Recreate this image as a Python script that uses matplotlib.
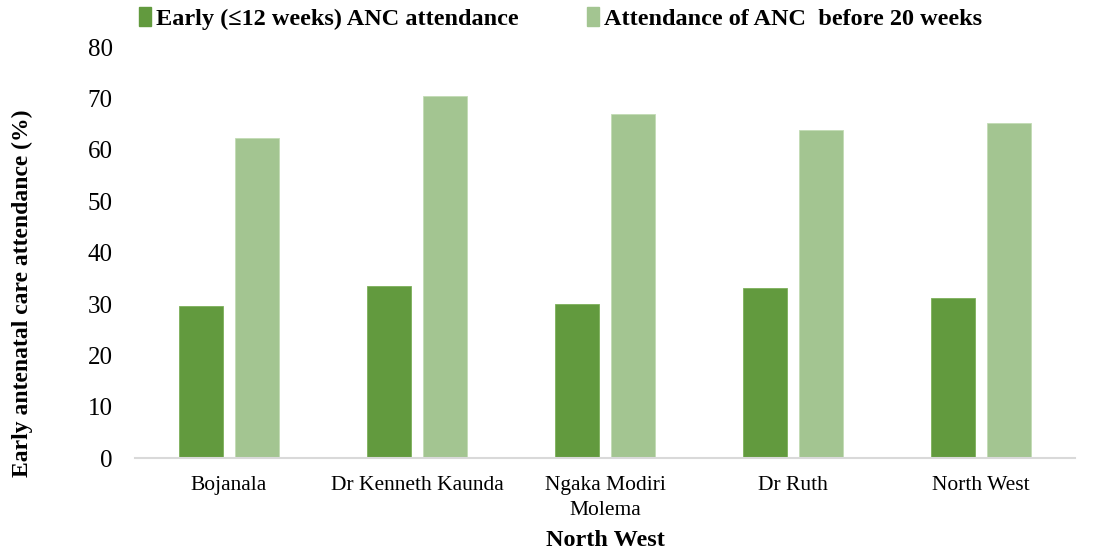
import matplotlib.pyplot as plt
import numpy as np
from matplotlib.patches import Patch

plt.rcParams['font.family'] = ['Liberation Serif', 'DejaVu Serif']

districts = ['Bojanala', 'Dr Kenneth Kaunda', 'Ngaka Modiri\nMolema', 'Dr Ruth', 'North West']
early_12wk = [29.6, 33.5, 30.0, 33.2, 31.1]
before_20wk = [62.4, 70.5, 67.0, 63.8, 65.2]

dark_green = '#629A3E'
light_green = '#A3C591'

fig = plt.figure(figsize=(10.93, 5.54), dpi=100)
ax = fig.add_axes([0.1235, 0.173, 0.86, 0.742])

x = np.arange(len(districts))
w = 0.234
gap = 0.064
ax.bar(x - (w + gap) / 2, early_12wk, width=w, color=dark_green, edgecolor='#7DB05A', linewidth=0.6)
ax.bar(x + (w + gap) / 2, before_20wk, width=w, color=light_green, edgecolor='#C2DCB5', linewidth=0.6)

ax.set_xlim(-0.5, len(districts) - 0.5)
ax.set_ylim(0, 80)
ax.set_yticks(range(0, 81, 10))
ax.tick_params(axis='y', labelsize=18, length=0, pad=16)
ax.set_xticks(x)
ax.set_xticklabels(districts, fontsize=15.5, linespacing=1.4)
ax.tick_params(axis='x', length=0, pad=13)

for s in ['top', 'right', 'left']:
    ax.spines[s].set_visible(False)
ax.spines['bottom'].set_color('#D9D9D9')
ax.spines['bottom'].set_linewidth(1.5)

ax.set_xlabel('North West', fontsize=17.5, fontweight='bold', labelpad=7)
ax.set_ylabel('Early antenatal care attendance (%)', fontsize=17, fontweight='bold')
ax.yaxis.set_label_coords(-0.1085, 0.40)

handles = [Patch(color=dark_green), Patch(color=light_green)]
labels = ['Early (≤12 weeks) ANC attendance', 'Attendance of ANC  before 20 weeks']
fig.legend(handles, labels, loc='center', bbox_to_anchor=(0.513, 0.967), ncol=2,
           frameon=False, prop={'size': 17.5, 'weight': 'bold'},
           handlelength=0.5, handleheight=0.8, handletextpad=0.2, columnspacing=2.8)

plt.savefig('out.png', dpi=100)
